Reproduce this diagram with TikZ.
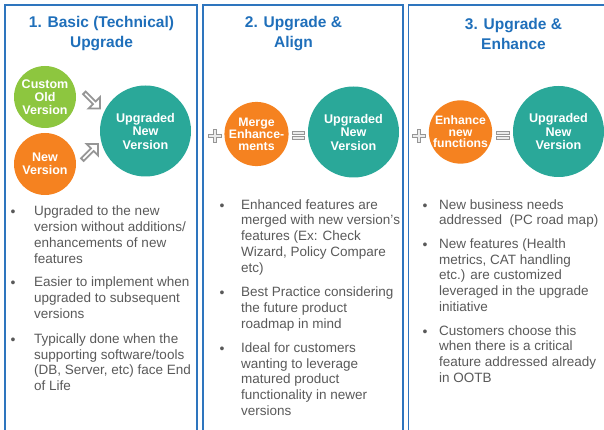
\documentclass[tikz,border=0pt]{standalone}
\usepackage{fontspec}
\setmainfont{Liberation Sans}
\usetikzlibrary{shapes.arrows}
\definecolor{frameblue}{RGB}{46,117,190}
\definecolor{titleblue}{RGB}{31,111,186}
\definecolor{cgreen}{RGB}{141,198,63}
\definecolor{corange}{RGB}{245,130,32}
\definecolor{cteal}{RGB}{42,168,153}
\definecolor{tgrey}{RGB}{89,89,89}
\definecolor{sgrey}{RGB}{150,150,150}
\definecolor{sfill}{RGB}{235,235,235}
\begin{document}
\begin{tikzpicture}[x=1pt,y=-1pt,
  panel/.style={draw=frameblue,line width=1.8pt},
  ttl/.style={text=titleblue,align=center,inner sep=0pt,font=\bfseries\fontsize{15.5}{20}\selectfont},
  circ/.style={circle,inner sep=0pt,text=white,align=center},
  small/.style={circ,minimum size=62pt,font=\bfseries\fontsize{12.5}{13}\selectfont},
  big/.style={circ,fill=cteal,minimum size=91pt,font=\bfseries\fontsize{12.6}{13.5}\selectfont},
  btext/.style={anchor=north west,inner sep=0pt,align=left,text=tgrey,font=\fontsize{13.5}{15.8}\selectfont},
  bul/.style={inner sep=0pt,text=tgrey,font=\fontsize{14}{14}\selectfont,yshift=-3pt},
  harrow/.style={single arrow,draw=sgrey,fill=white,line width=1.8pt,minimum height=22pt,minimum width=16pt,single arrow head extend=3pt,inner sep=0pt},
  sym/.style={draw=sgrey,fill=sfill,line width=1pt}
]
\useasboundingbox (0,0) rectangle (604,430);
\clip (0,0) rectangle (604,430);
% panels
\draw[panel] (5,5) rectangle (197,445);
\draw[panel] (203,5) rectangle (403,445);
\draw[panel] (408.5,5) rectangle (620,445);
% titles
\node[ttl] (t1) at (101.5,34) {1. Basic (Technical)\\Upgrade};
\node[ttl] (t2) at (293.5,34) {2. Upgrade \&\\Align};
\node[ttl] (t3) at (513.5,34) {3. Upgrade \&\\Enhance};
% panel 1 circles
\node[small,fill=cgreen] (old) at (45,97) {Custom\\Old\\Version};
\node[small,fill=corange] (new) at (45,164) {New\\Version};
\node[big] (up1) at (145.5,131) {Upgraded\\New\\Version};
\node[harrow,rotate=-45] (a1) at (91.5,100) {};
\node[harrow,rotate=45] (a2) at (89.5,152.5) {};
% panel 2
\node[small,fill=corange,minimum size=60pt,font=\bfseries\fontsize{12.3}{11.5}\selectfont] (merge) at (256.5,134) {Merge\\Enhance-\\ments};
\node[big] (up2) at (353.5,132) {Upgraded\\New\\Version};
% panel 3
\node[small,fill=corange,minimum size=63pt,font=\bfseries\fontsize{12.2}{11.5}\selectfont] (enh) at (460.5,132) {Enhance\\new\\functions};
\node[big] (up3) at (558.5,131.5) {Upgraded\\New\\Version};
% plus signs
\foreach \cx/\cy in {215/136,419/136}{
  \draw[sym] (\cx-1.8,\cy-6.2) -- (\cx+1.8,\cy-6.2) -- (\cx+1.8,\cy-1.8) -- (\cx+6.2,\cy-1.8) -- (\cx+6.2,\cy+1.8) -- (\cx+1.8,\cy+1.8) -- (\cx+1.8,\cy+6.2) -- (\cx-1.8,\cy+6.2) -- (\cx-1.8,\cy+1.8) -- (\cx-6.2,\cy+1.8) -- (\cx-6.2,\cy-1.8) -- (\cx-1.8,\cy-1.8) -- cycle;
}
% equals signs
\foreach \cx/\cy in {298.5/135.5,503/135.5}{
  \draw[sym] (\cx-6.3,\cy-4.3) rectangle (\cx+6.3,\cy-1.0);
  \draw[sym] (\cx-6.3,\cy+1.0) rectangle (\cx+6.3,\cy+4.3);
}
% panel 1 bullets
\node[bul] (d11) at (13,210.7) {•};
\node[btext] (b11) at (34,205.8) {Upgraded to the new\\version without additions/\\enhancements of new\\features};
\node[bul] (d12) at (13,281.7) {•};
\node[btext] (b12) at (34,276.8) {Easier to implement when\\upgraded to subsequent\\versions};
\node[bul] (d13) at (13,338.3) {•};
\node[btext] (b13) at (34,333.4) {Typically done when the\\supporting software/tools\\(DB, Server, etc) face End\\of Life};
% panel 2 bullets
\node[bul] (d21) at (222,204) {•};
\node[btext] (b21) at (241,199.1) {Enhanced features are\\merged with new version’s\\features (Ex: Check\\Wizard, Policy Compare\\etc)};
\node[bul] (d22) at (222,291.7) {•};
\node[btext] (b22) at (241,286.8) {Best Practice considering\\the future product\\roadmap in mind};
\node[bul] (d23) at (222,347.3) {•};
\node[btext] (b23) at (241,342.4) {Ideal for customers\\wanting to leverage\\matured product\\functionality in newer\\versions};
% panel 3 bullets
\node[bul] (d31) at (425,204) {•};
\node[btext] (b31) at (439,199.1) {New business needs\\addressed \ (PC road map)};
\node[bul] (d32) at (425,243.3) {•};
\node[btext] (b32) at (439,238.4) {New features (Health\\metrics, CAT handling\\etc.) are customized\\leveraged in the upgrade\\initiative};
\node[bul] (d33) at (425,330) {•};
\node[btext] (b33) at (439,325.1) {Customers choose this\\when there is a critical\\feature addressed already\\in OOTB};
\end{tikzpicture}
\end{document}
